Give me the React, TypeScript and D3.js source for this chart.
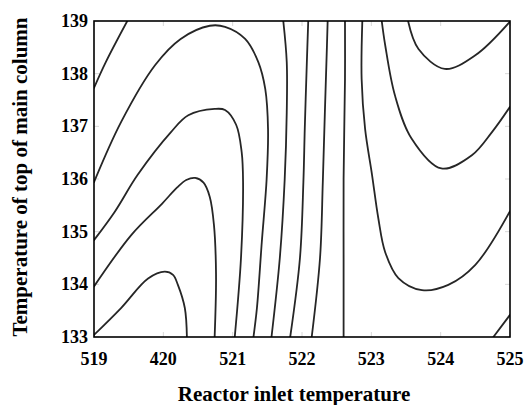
import React from "react";
import * as d3 from "d3";

// ---- Data ----
const X_TICKS = [519, 520, 521, 522, 523, 524, 525];
const X_TICK_LABELS = ["519", "420", "521", "522", "523", "524", "525"];
const Y_TICKS = [133, 134, 135, 136, 137, 138, 139];
const X_TITLE = "Reactor inlet temperature";
const Y_TITLE = "Temperature of top of main column";

type P = [number, number];

const lineCorner: P[] = [[519.0, 137.73], [519.17, 138.22], [519.48, 139.0]];
const arch1: P[] = [
  [519.0, 135.94], [519.39, 137.08], [519.88, 138.16], [520.25, 138.66], [520.67, 138.91],
  [520.89, 138.89], [521.18, 138.66], [521.37, 138.22], [521.47, 137.71], [521.51, 136.95],
  [521.49, 136.0], [521.42, 134.8], [521.35, 133.55], [521.3, 133.0],
];
const arch2: P[] = [
  [519.0, 134.84], [519.3, 135.38], [519.63, 136.08], [520.11, 136.89], [520.36, 137.21],
  [520.74, 137.33], [520.89, 137.31], [521.05, 137.03], [521.13, 136.51], [521.15, 135.94],
  [521.12, 134.5], [521.03, 133.0],
];
const arch3: P[] = [
  [519.0, 133.96], [519.54, 134.94], [519.98, 135.53], [520.2, 135.84], [520.33, 135.98],
  [520.46, 136.02], [520.58, 135.93], [520.67, 135.66], [520.73, 135.13], [520.76, 134.18],
  [520.74, 133.0],
];
const arch4: P[] = [
  [519.0, 133.04], [519.39, 133.55], [519.78, 134.11], [520.02, 134.24], [520.14, 134.18],
  [520.21, 133.99], [520.31, 133.55], [520.34, 133.0],
];
const vert1: P[] = [[521.73, 139.0], [521.78, 138.22], [521.78, 137.27], [521.75, 135.98], [521.68, 134.5], [521.56, 133.0]];
const vert2: P[] = [[522.09, 139.0], [522.07, 138.22], [522.04, 136.96], [522.02, 135.94], [521.97, 134.49], [521.83, 133.0]];
const vert3: P[] = [[522.37, 139.0], [522.36, 138.54], [522.33, 137.27], [522.3, 135.94], [522.26, 134.5], [522.14, 133.0]];
const vert4: P[] = [[522.62, 139.0], [522.62, 137.9], [522.6, 136.0], [522.6, 134.5], [522.6, 133.0]];
const lowerU: P[] = [
  [522.87, 139.0], [522.86, 137.9], [522.91, 136.95], [523.01, 136.08], [523.1, 135.26],
  [523.2, 134.61], [523.39, 134.12], [523.73, 133.89], [524.11, 133.99], [524.5, 134.37],
  [525.0, 135.39],
];
const upperU: P[] = [
  [523.15, 139.0], [523.2, 138.54], [523.34, 137.59], [523.58, 136.77], [524.01, 136.2],
  [524.45, 136.45], [524.74, 136.89], [525.0, 137.37],
];
const smallU: P[] = [[523.53, 139.0], [523.68, 138.47], [524.06, 138.09], [524.5, 138.35], [525.0, 138.99]];
const cornerBR: P[] = [[524.76, 133.0], [525.0, 133.42]];

const CONTOURS: P[][] = [
  lineCorner, arch1, arch2, arch3, arch4, vert1, vert2, vert3, vert4, lowerU, upperU, smallU, cornerBR,
];

// ---- Layout ----
const W = 528;
const H = 405;
const M = { left: 94, right: 18, top: 21, bottom: 68 };
const FONT = "'Liberation Serif', 'Times New Roman', Times, serif";

export default function App() {
  const iw = W - M.left - M.right;
  const ih = H - M.top - M.bottom;
  const x = d3.scaleLinear().domain([519, 525]).range([0, iw]);
  const y = d3.scaleLinear().domain([133, 139]).range([ih, 0]);
  const line = d3
    .line<P>()
    .x((d) => x(d[0]))
    .y((d) => y(d[1]))
    .curve(d3.curveCatmullRom.alpha(0.5));

  return (
    <div style={{ position: "fixed", left: 0, top: 0, width: W, height: H, background: "#fff" }}>
      <svg width={W} height={H} style={{ display: "block" }}>
        <defs>
          <clipPath id="plotclip">
            <rect x={0} y={0} width={iw} height={ih} />
          </clipPath>
        </defs>
        <g transform={`translate(${M.left},${M.top})`}>
          {/* faint inner ticks */}
          {X_TICKS.map((t) => (
            <g key={"xt" + t} stroke="#d8d8d8" strokeWidth={1}>
              <line x1={x(t)} x2={x(t)} y1={0} y2={5} />
              <line x1={x(t)} x2={x(t)} y1={ih} y2={ih - 5} />
            </g>
          ))}
          {Y_TICKS.map((t) => (
            <g key={"yt" + t} stroke="#d8d8d8" strokeWidth={1}>
              <line x1={0} x2={5} y1={y(t)} y2={y(t)} />
              <line x1={iw} x2={iw - 5} y1={y(t)} y2={y(t)} />
            </g>
          ))}
          <g clipPath="url(#plotclip)">
            {CONTOURS.map((c, i) => (
              <path
                key={i}
                d={line(c) || ""}
                fill="none"
                stroke="#262626"
                strokeWidth={1.8}
                strokeLinecap="round"
              />
            ))}
          </g>
          <rect x={0} y={0} width={iw} height={ih} fill="none" stroke="#000" strokeWidth={1.6} />
          {X_TICKS.map((t, i) => (
            <text
              key={"xl" + t}
              x={x(t)}
              y={ih + 28}
              textAnchor="middle"
              fontFamily={FONT}
              fontWeight="bold"
              fontSize={18}
              fill="#000"
            >
              {X_TICK_LABELS[i]}
            </text>
          ))}
          {Y_TICKS.map((t) => (
            <text
              key={"yl" + t}
              x={-6}
              y={y(t)}
              dy="0.34em"
              textAnchor="end"
              fontFamily={FONT}
              fontWeight="bold"
              fontSize={18}
              fill="#000"
            >
              {t}
            </text>
          ))}
        </g>
        <text
          x={294}
          y={401}
          textAnchor="middle"
          fontFamily={FONT}
          fontWeight="bold"
          fontSize={21}
          fill="#000"
        >
          {X_TITLE}
        </text>
        <text
          transform="translate(27,177) rotate(-90)"
          textAnchor="middle"
          fontFamily={FONT}
          fontWeight="bold"
          fontSize={21}
          fill="#000"
        >
          {Y_TITLE}
        </text>
      </svg>
    </div>
  );
}
